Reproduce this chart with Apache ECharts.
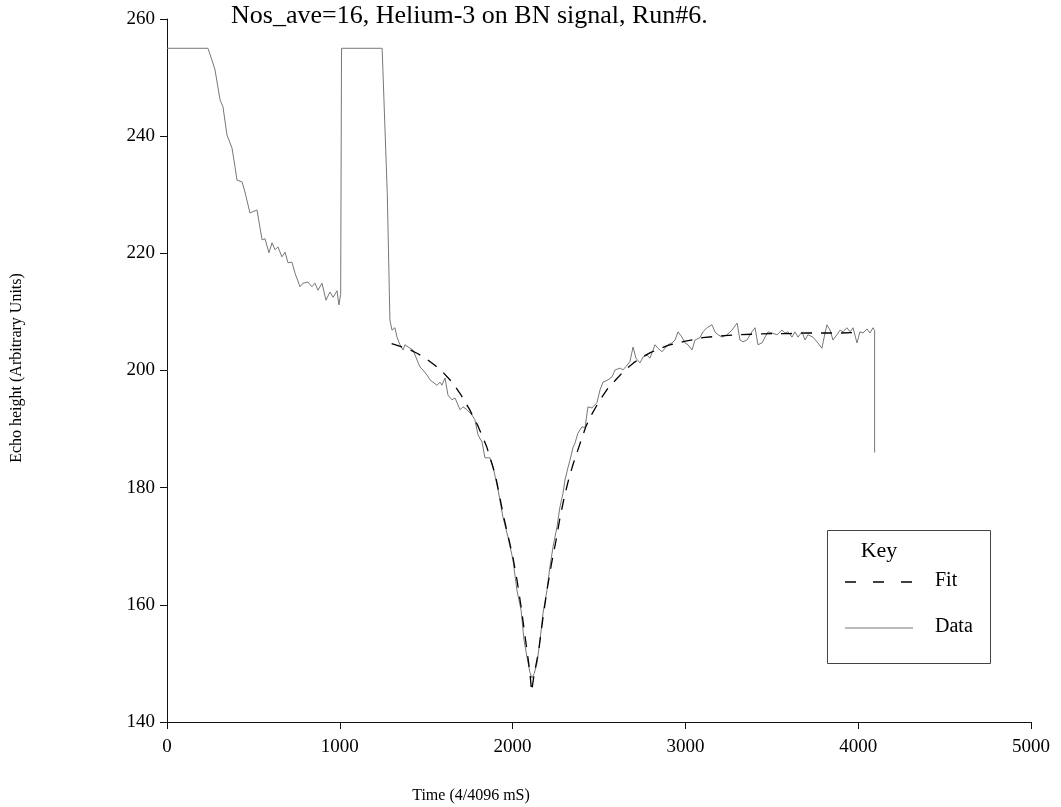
<!DOCTYPE html>
<html>
<head>
<meta charset="utf-8">
<script src="https://cdn.jsdelivr.net/npm/echarts@6/dist/echarts.min.js"></script>
<style>
  html, body { margin: 0; padding: 0; background: #fff; }
  #chart { width: 1061px; height: 807px; }
</style>
</head>
<body>
<div id="chart"></div>
<script>
// Echo height samples: [time (4/4096 mS), height]
const dataTime = [
  0, 237, 260, 278, 307, 324, 347, 376, 394, 405, 434, 451, 480, 521, 550, 567, 590, 608, 625, 642,
  665, 683, 700, 723, 741, 770, 787, 816, 839, 856, 874, 897, 920, 943, 961, 984, 995, 1005, 1010, 1245,
  1275, 1290, 1302, 1319, 1331, 1348, 1366, 1377, 1406, 1424, 1447, 1464, 1481, 1505, 1522, 1539, 1562, 1580, 1591, 1609,
  1626, 1649, 1667, 1696, 1713, 1736, 1765, 1782, 1800, 1823, 1840, 1869, 1887, 1916, 1944, 1973, 2002, 2025, 2049, 2066,
  2083, 2100, 2112, 2125, 2141, 2159, 2176, 2199, 2216, 2234, 2257, 2274, 2292, 2303, 2321, 2332, 2350, 2361, 2378, 2402,
  2419, 2436, 2459, 2488, 2506, 2523, 2552, 2575, 2593, 2622, 2639, 2662, 2679, 2697, 2714, 2737, 2755, 2778, 2795, 2824,
  2841, 2865, 2882, 2899, 2922, 2940, 2957, 2980, 2998, 3015, 3038, 3056, 3084, 3102, 3125, 3154, 3171, 3189, 3212, 3241,
  3270, 3299, 3316, 3333, 3356, 3385, 3403, 3420, 3443, 3461, 3478, 3501, 3530, 3559, 3576, 3594, 3617, 3634, 3652, 3675,
  3692, 3709, 3738, 3767, 3790, 3808, 3819, 3837, 3854, 3877, 3895, 3912, 3935, 3953, 3970, 3993, 4010, 4028, 4051, 4068,
  4086, 4095, 4095
];
const dataHeight = [
  255, 255, 253, 251.3, 246.2, 245, 240.2, 238, 234.7, 232.5, 232.2, 230.5, 226.9, 227.4, 222.3, 222.5, 220.1, 221.8, 220.6, 221.1,
  219.4, 220.2, 218.4, 218.5, 216.6, 214.3, 214.9, 215.1, 214.3, 214.9, 213.7, 214.9, 212, 213.4, 212.5, 213.6, 211.2, 213, 255, 255,
  230, 208.6, 206.9, 207.3, 205.7, 204.4, 203.5, 204.4, 203.8, 203.5, 201.8, 200.6, 200.1, 199.2, 198.4, 198.0, 197.5, 198.0, 197.5, 198.7,
  195.8, 195.0, 195.3, 193.3, 193.8, 193.3, 192.4, 191.6, 189.0, 187.8, 185.1, 185.1, 183.5, 179.6, 175.0, 171.6, 167.7, 162.5, 159.1, 154.0,
  151.1, 148.5, 147.5, 148.3, 150, 154, 158.6, 162.5, 166.5, 169.9, 173.3, 176.7, 179.1, 181.3, 183.5, 184.7, 186.9, 187.6, 189.3, 190.4,
  190.2, 193.8, 193.6, 194.5, 196.7, 198.0, 198.4, 198.9, 200.1, 200.4, 200.1, 200.9, 201.5, 204.0, 202.1, 201.3, 202.3, 202.6, 202.1, 204.4,
  203.8, 203.2, 203.8, 204.4, 204.7, 205.2, 206.6, 205.7, 204.7, 204.4, 203.5, 205.2, 205.6, 206.6, 207.3, 207.8, 206.6, 206.1, 205.7, 206.1,
  206.9, 208.1, 205.2, 204.9, 205.2, 206.6, 207.3, 204.4, 204.7, 205.7, 206.6, 206.4, 206.1, 206.9, 206.4, 206.6, 205.7, 206.6, 205.7, 206.6,
  205.2, 206.1, 205.7, 204.7, 203.8, 206.4, 207.8, 206.9, 205.2, 206.1, 206.9, 206.6, 207.3, 206.6, 207.3, 204.7, 206.6, 206.4, 207.1, 206.4,
  207.3, 206.8, 186
];

// Fitted curve samples
const fitTime = [
  1300, 1350, 1400, 1450, 1500, 1550, 1600, 1650, 1700, 1750, 1800, 1850, 1900, 1950, 2000, 2025, 2050, 2075, 2100, 2110,
  2125, 2150, 2175, 2200, 2225, 2250, 2275, 2300, 2325, 2350, 2375, 2400, 2425, 2450, 2500, 2550, 2600, 2650, 2700, 2750,
  2800, 2900, 3000, 3100, 3200, 3300, 3400, 3500, 3600, 3700, 3800, 3900, 4000
];
const fitHeight = [
  204.6, 204.1, 203.6, 202.9, 202.0, 200.9, 199.6, 198.0, 195.9, 193.4, 190.5, 187.0, 182.2, 174.8, 168.4, 164.3, 159.5, 154.0, 148.5, 145.2,
  148.2, 152.0, 157.6, 162.7, 167.0, 170.8, 175.0, 178.5, 181.5, 184.0, 186.2, 188.4, 190.5, 192.1, 194.7, 196.9, 198.5, 200.1, 201.3, 202.3,
  203.1, 204.3, 205.0, 205.6, 205.9, 206.1, 206.2, 206.3, 206.3, 206.4, 206.4, 206.4, 206.5
];

const titleText = 'Nos_ave=16, Helium-3 on BN signal, Run#6.';
const xAxisTitle = 'Time (4/4096 mS)';
const yAxisTitle = 'Echo height (Arbitrary Units)';
const keyTitle = 'Key';
const seriesNames = ['Fit', 'Data'];

const FONT = '"Liberation Serif", "Times New Roman", serif';
const chart = echarts.init(document.getElementById('chart'), null, { renderer: 'canvas' });

const zip = (xs, ys) => xs.map((x, i) => [x, ys[i]]);
const plain = (v) => String(v);

chart.setOption({
  backgroundColor: '#fff',
  animation: false,
  grid: { left: 167, right: 30, top: 19, bottom: 85, containLabel: false },
  xAxis: {
    type: 'value', min: 0, max: 5000, interval: 1000,
    axisLine: { show: true, onZero: false, lineStyle: { color: '#111', width: 1 } },
    axisTick: { show: true, length: 7, lineStyle: { color: '#111' } },
    axisLabel: { color: '#000', fontFamily: FONT, fontSize: 19, margin: 16, formatter: plain },
    splitLine: { show: false }
  },
  yAxis: {
    type: 'value', min: 140, max: 260, interval: 20,
    axisLine: { show: true, onZero: false, lineStyle: { color: '#111', width: 1 } },
    axisTick: { show: true, length: 7, lineStyle: { color: '#111' } },
    axisLabel: { color: '#000', fontFamily: FONT, fontSize: 19, margin: 12, formatter: plain },
    splitLine: { show: false }
  },
  series: [
    {
      name: seriesNames[0], type: 'line', data: zip(fitTime, fitHeight),
      showSymbol: false, smooth: false, z: 3,
      lineStyle: { color: '#000', width: 1.3, type: [11, 9] }
    },
    {
      name: seriesNames[1], type: 'line', data: zip(dataTime, dataHeight),
      showSymbol: false, smooth: false, z: 2,
      lineStyle: { color: '#777', width: 1 }
    }
  ],
  graphic: [
    { type: 'text', left: 231, top: 3, style: { text: titleText, font: '26px ' + FONT, fill: '#000' } },
    { type: 'text', x: 471, y: 796, style: { text: xAxisTitle, font: '16px ' + FONT, fill: '#000', align: 'center', verticalAlign: 'middle' } },
    { type: 'text', x: 17, y: 368, rotation: Math.PI / 2, style: { text: yAxisTitle, font: '16px ' + FONT, fill: '#000', align: 'center', verticalAlign: 'middle' } },
    { type: 'rect', shape: { x: 827.5, y: 530.5, width: 163, height: 133 }, style: { fill: '#fff', stroke: '#444', lineWidth: 1 }, z: 10 },
    { type: 'text', x: 879, y: 551, style: { text: keyTitle, font: '22px ' + FONT, fill: '#000', align: 'center', verticalAlign: 'middle' }, z: 11 },
    { type: 'line', shape: { x1: 845, y1: 582, x2: 913, y2: 582 }, style: { stroke: '#000', lineWidth: 1.3, lineDash: [11, 17] }, z: 11 },
    { type: 'text', x: 935, y: 581, style: { text: seriesNames[0], font: '20px ' + FONT, fill: '#000', verticalAlign: 'middle' }, z: 11 },
    { type: 'line', shape: { x1: 845, y1: 628, x2: 913, y2: 628 }, style: { stroke: '#777', lineWidth: 1 }, z: 11 },
    { type: 'text', x: 935, y: 627, style: { text: seriesNames[1], font: '20px ' + FONT, fill: '#000', verticalAlign: 'middle' }, z: 11 }
  ]
});
</script>
</body>
</html>
